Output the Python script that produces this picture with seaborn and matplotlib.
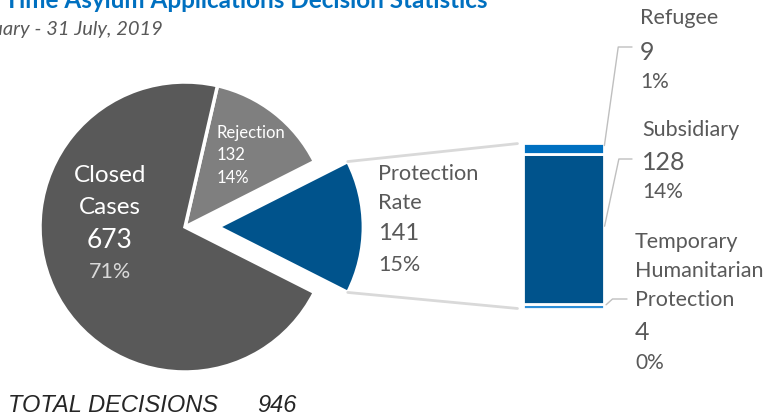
import numpy as np
import matplotlib
matplotlib.use("Agg")
import matplotlib.pyplot as plt
from matplotlib.patches import ConnectionPatch
import seaborn as sns

sns.set_theme(style="white")
plt.rcParams["font.family"] = ["Lato", "DejaVu Sans"]

# data
pie_names = ["Protection\nRate", "Rejection", "Closed\nCases"]
pie_values = [141, 132, 673]
pie_colors = ["#00538C", "#7F7F7F", "#595959"]

bar_names = ["Temporary\nHumanitarian\nProtection", "Subsidiary", "Refugee"]
bar_values = [4, 128, 9]
bar_colors = ["#2E8FD8", "#00538C", "#0070C0"]

total = sum(pie_values)
GREY = "#595959"

W, H = 771, 417
fig = plt.figure(figsize=(W / 100, H / 100), dpi=100)


def fx(x):
    return x / W


def fy(y):
    return 1 - y / H


# ---- pie of all decisions
R, cx, cy, lim = 145, 185, 227, 1.2
side = 2 * lim * R
ax_pie = fig.add_axes([(cx - side / 2) / W, (H - cy - side / 2) / H, side / W, side / H])
wedges, _ = ax_pie.pie(pie_values, colors=pie_colors,
                       startangle=-pie_values[0] / total * 180,
                       explode=[0.23, 0, 0],
                       wedgeprops=dict(edgecolor="white", linewidth=2.5))
ax_pie.set_xlim(-lim, lim)
ax_pie.set_ylim(-lim, lim)
ax_pie.axis("off")

pct = [f"{v / total:.0%}" for v in pie_values]

# closed cases label (white, inside)
fig.text(fx(110), fy(175), "Closed", ha="center", va="center", color="white", fontsize=17.5)
fig.text(fx(110), fy(207), "Cases", ha="center", va="center", color="white", fontsize=17.5)
fig.text(fx(110), fy(240), str(pie_values[2]), ha="center", va="center", color="white", fontsize=19)
fig.text(fx(110), fy(272), pct[2], ha="center", va="center", color="#D9D9D9", fontsize=15.5)

# rejection label
fig.text(fx(217), fy(133), pie_names[1], ha="left", va="center", color="white", fontsize=12)
fig.text(fx(217), fy(155), str(pie_values[1]), ha="left", va="center", color="white", fontsize=12)
fig.text(fx(217), fy(178), pct[1], ha="left", va="center", color="white", fontsize=12)

# protection rate label
fig.text(fx(378), fy(174), "Protection", ha="left", va="center", color=GREY, fontsize=15.7)
fig.text(fx(378), fy(203), "Rate", ha="left", va="center", color=GREY, fontsize=15.7)
fig.text(fx(378), fy(234), str(pie_values[0]), ha="left", va="center", color=GREY, fontsize=17)
fig.text(fx(378), fy(265), pct[0], ha="left", va="center", color=GREY, fontsize=15.5)

# ---- stacked bar breaking down protection
ax_bar = fig.add_axes([fx(523), (H - 309) / H, 81 / W, 166 / H])
bottoms = np.concatenate([[0], np.cumsum(bar_values)[:-1]])
ax_bar.bar(0, bar_values, bottom=bottoms, width=1, color=bar_colors,
           edgecolor="white", linewidth=2)
ax_bar.set_xlim(-0.5, 0.5)
ax_bar.set_ylim(0, sum(bar_values))
ax_bar.axis("off")

# grey lines joining the exploded wedge to the bar
w = wedges[0]
for ang, yb in [(w.theta2, sum(bar_values)), (w.theta1, 0)]:
    xa = w.center[0] + w.r * np.cos(np.radians(ang))
    ya = w.center[1] + w.r * np.sin(np.radians(ang))
    con = ConnectionPatch(xyA=(xa, ya), coordsA=ax_pie.transData,
                          xyB=(-0.5, yb), coordsB=ax_bar.transData,
                          color="#D9D9D9", lw=2, shrinkB=4)
    fig.add_artist(con)

# leader lines + labels on the right
leaders = [  # (end x, end y, angle)
    (627, 299, 42),
    (632, 159, 78),
    (632, 47, 82),
]
for i, (ex, ey, angB) in enumerate(leaders):
    mid = bottoms[i] + bar_values[i] / 2
    ax_bar.annotate("", xy=(0.5, mid), xycoords="data",
                    xytext=(ex, H - ey), textcoords="figure pixels",
                    arrowprops=dict(arrowstyle="-", color="#BFBFBF", lw=1,
                                    shrinkA=0, shrinkB=2,
                                    connectionstyle=f"angle,angleA=0,angleB={angB},rad=0"))

bar_pct = [f"{v / total:.0%}" for v in bar_values]

fig.text(fx(640), fy(18), bar_names[2], ha="left", va="center", color=GREY, fontsize=15.5)
fig.text(fx(640), fy(52), str(bar_values[2]), ha="left", va="center", color=GREY, fontsize=18)
fig.text(fx(640), fy(82), bar_pct[2], ha="left", va="center", color=GREY, fontsize=15)

fig.text(fx(642), fy(130), bar_names[1], ha="left", va="center", color=GREY, fontsize=15.5)
fig.text(fx(642), fy(162), str(bar_values[1]), ha="left", va="center", color=GREY, fontsize=18)
fig.text(fx(642), fy(192), bar_pct[1], ha="left", va="center", color=GREY, fontsize=15)

for line, yy in zip(bar_names[0].split("\n"), [242, 271, 300]):
    fig.text(fx(635), fy(yy), line, ha="left", va="center", color=GREY, fontsize=15.5)
fig.text(fx(635), fy(333), str(bar_values[0]), ha="left", va="center", color=GREY, fontsize=18)
fig.text(fx(635), fy(363), bar_pct[0], ha="left", va="center", color=GREY, fontsize=15)

# ---- titles
fig.text(fx(488), fy(8), "First Time Asylum Applications Decision Statistics",
         ha="right", va="baseline", fontsize=17.5, fontweight="bold", color="#0070C0")
fig.text(fx(163), fy(35), "1 January - 31 July, 2019", ha="right", va="baseline",
         fontsize=14.5, style="italic", color=GREY)

fig.text(fx(8), fy(412), "TOTAL DECISIONS", ha="left", va="baseline", fontsize=17,
         style="italic", color="#262626", family="Liberation Sans")
fig.text(fx(257), fy(412), str(total), ha="left", va="baseline", fontsize=17,
         style="italic", color="#262626", family="Liberation Sans")

fig.savefig("out.png", dpi=100)
